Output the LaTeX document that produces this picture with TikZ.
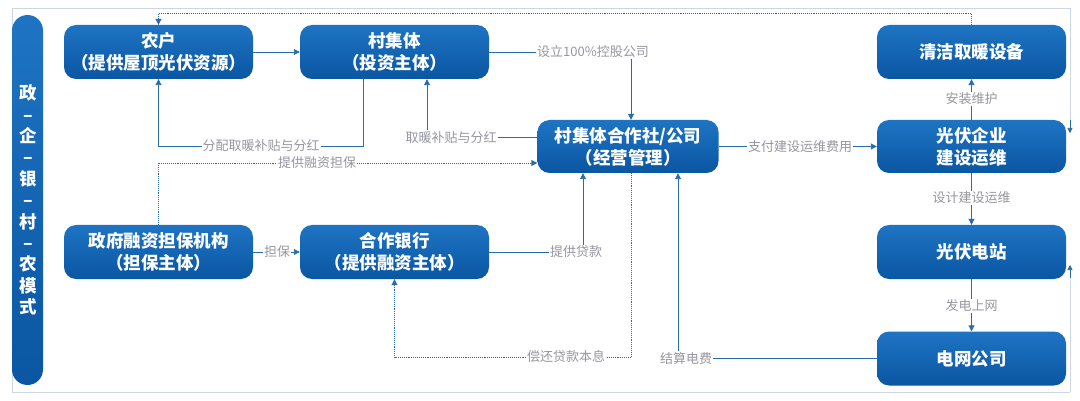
\documentclass[tikz,border=0pt]{standalone}
\usepackage{fontspec}
\setmainfont{Noto Sans CJK SC}
\usetikzlibrary{arrows.meta,calc}
\definecolor{boxtop}{RGB}{30,116,195}
\definecolor{boxbot}{RGB}{10,86,162}
\definecolor{linec}{RGB}{40,108,168}
\definecolor{labc}{RGB}{150,150,160}
\definecolor{framec}{RGB}{205,214,228}
\tikzset{
  box/.style={rounded corners=12pt, top color=boxtop, bottom color=boxbot, draw=none,
    minimum width=189pt, minimum height=54pt, align=center, text=white,
    font=\bfseries\fontsize{17.5}{22}\selectfont, inner sep=0pt},
  lab/.style={fill=white, text=labc, font=\fontsize{13}{14}\selectfont, inner sep=1pt},
  conn/.style={draw=linec, line width=0.9pt, -{Triangle[length=6pt,width=6pt]}},
  dotc/.style={draw=linec, line width=0.9pt, densely dotted, -{Triangle[length=6pt,width=6pt]}},
  framel/.style={draw=framec, line width=0.8pt},
}
\begin{document}
\begin{tikzpicture}[x=1pt,y=-1pt]
\useasboundingbox (0,0) rectangle (1080,401);
% frame
\draw[framel] (1070,392) -- (12,392) -- (12,8) -- (1070,8);
\draw[framel] (1070,8) -- (1070,131);
\draw[draw=linec,line width=0.6pt,-{Triangle[length=5pt,width=5pt]}] (1070,120) -- (1070,133);
\draw[framel] (1070,392) -- (1070,268);
\draw[draw=linec,line width=0.6pt,-{Triangle[length=5pt,width=5pt]}] (1070,278) -- (1070,265);
% side pill
\node[rounded corners=15.5pt, top color=boxtop, bottom color=boxbot, minimum width=31pt, minimum height=370pt, inner sep=0pt] (pill) at (27.5,200) {};
\node[text=white, align=center, font=\bfseries\fontsize{17.5}{21.4}\selectfont] (pilltxt) at (28,200) {政\\–\\企\\–\\银\\–\\村\\–\\农\\模\\式};
% boxes
\node[box] (nh) at (158.5,52) {农户\\（提供屋顶光伏资源）};
\node[box] (cjt) at (394.5,52) {村集体\\（投资主体）};
\node[box] (qj) at (971.5,52) {清洁取暖设备};
\node[box, minimum width=181pt, minimum height=53pt] (hzs) at (628,146.5) {村集体合作社/公司\\（经营管理）};
\node[box, minimum height=53pt] (gf) at (971.5,146.5) {光伏企业\\建设运维};
\node[box] (db) at (158.5,252) {政府融资担保机构\\（担保主体）};
\node[box] (yh) at (394.5,252) {合作银行\\（提供融资主体）};
\node[box] (dz) at (971.5,252) {光伏电站};
\node[box] (dw) at (971.5,358.5) {电网公司};
% connectors
\draw[conn] (nh.east) -- (cjt.west);
\draw[conn] (cjt.east) -| ($(hzs.north)+(3,0)$);
\node[lab] (l1) at (593,52) {设立100\%控股公司};
\draw[conn] ($(hzs.west)+(0,-9)$) -| ($(cjt.south)+(32.5,0)$);
\node[lab] (l2) at (451,137.5) {取暖补贴与分红};
\draw[conn] ($(cjt.south)+(-31.5,0)$) -- ++(0,67) -| (nh.south);
\node[lab] (l3) at (261,146) {分配取暖补贴与分红};
\draw[dotc] (db.north) |- ($(hzs.west)+(0,16.5)$);
\node[lab] (l4) at (317,163) {提供融资担保};
\draw[conn] (db.east) -- (yh.west);
\node[lab] (l5) at (277,252) {担保};
\draw[conn] (yh.east) -| ($(hzs.south)+(-45,0)$);
\node[lab] (l6) at (576,252) {提供贷款};
\draw[dotc] ($(hzs.south)+(3,0)$) -- ++(0,184) -| (yh.south);
\node[lab] (l7) at (566,357) {偿还贷款本息};
\draw[conn] (dw.west) -| ($(hzs.south)+(50,0)$);
\node[lab] (l8) at (686,358.5) {结算电费};
\draw[conn] (hzs.east) -- (gf.west);
\node[lab] (l9) at (800,146.5) {支付建设运维费用};
\draw[conn] (gf.north) -- (qj.south);
\node[lab] (l10) at (971.5,99) {安装维护};
\draw[conn] (gf.south) -- (dz.north);
\node[lab] (l11) at (971.5,198) {设计建设运维};
\draw[conn] (dz.south) -- (dw.north);
\node[lab] (l12) at (971.5,306) {发电上网};
\draw[dotc] (qj.north) -- ++(0,-11) -| (nh.north);
\end{tikzpicture}
\end{document}
